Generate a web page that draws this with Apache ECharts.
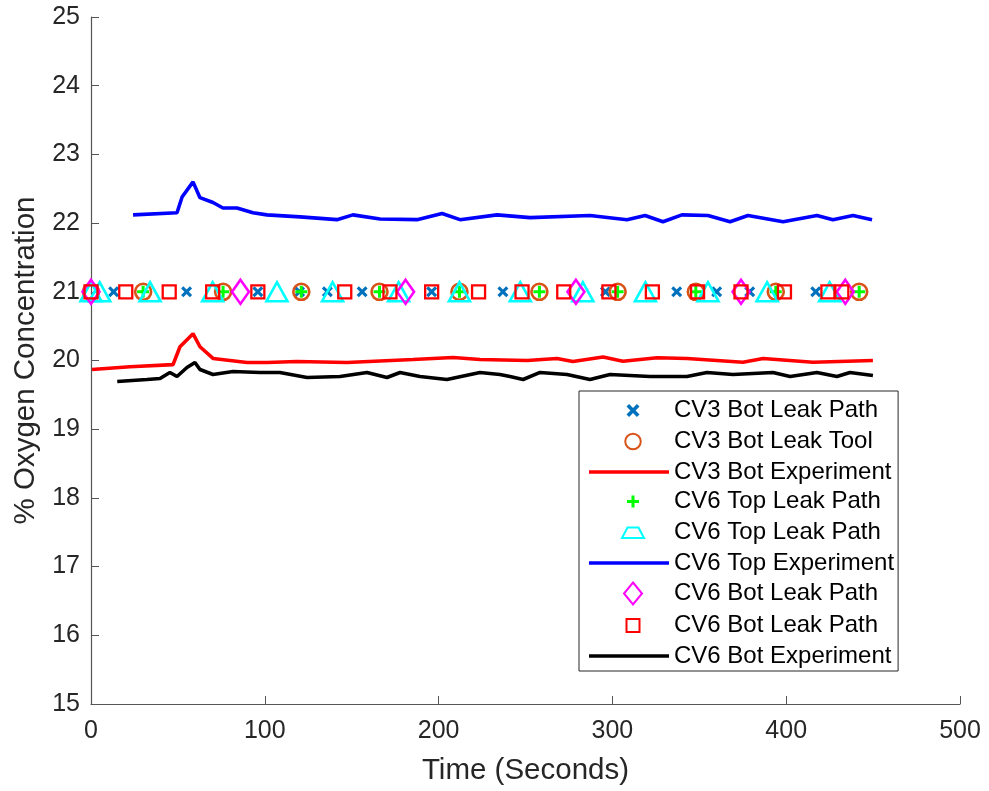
<!DOCTYPE html>
<html>
<head>
<meta charset="utf-8">
<script src="https://cdn.jsdelivr.net/npm/echarts@6/dist/echarts.min.js"></script>
<style>
  html, body { margin: 0; padding: 0; background: #fff; }
  #chart { width: 989px; height: 791px; }
</style>
</head>
<body>
<div id="chart"></div>
<script>
// Model predictions: every leak-path / tool marker sits at the 21 % level
const markerLevel = 21;
const cv3BotLeakPathT = [13, 55, 96, 120, 136, 156, 196, 237, 296, 337, 360, 379, 417];
const cv3BotLeakToolT = [0, 30, 76, 121, 166, 212, 258, 303, 348, 394, 442];
const cv6TopLeakPathPlusT = [30, 76, 121, 166, 212, 258, 303, 348, 394, 442];
const cv6TopLeakPathTriT = [0, 5, 34, 70, 107, 139, 177, 212, 247, 283, 319, 355, 389, 425];
const cv6BotLeakPathDiaT = [0, 86, 181, 279, 374, 434];
const cv6BotLeakPathSqT = [0, 20, 45, 70, 96, 146, 172, 196, 223, 248, 272, 298, 323, 349, 374, 399, 424, 432];

// Measured oxygen concentration, [time (s), % O2]
const cv3BotExperiment = [
  [0.6, 19.87], [22.4, 19.91], [47.2, 19.94], [51.2, 20.2], [58.7, 20.39], [62.7, 20.2],
  [70.2, 20.03], [89.8, 19.97], [101.3, 19.97], [118.5, 19.985], [147.3, 19.97],
  [185.3, 20.015], [208.3, 20.044], [223.8, 20.015], [250.9, 20.0], [268.1, 20.03],
  [277.3, 19.985], [294.6, 20.05], [306.1, 19.99], [325.7, 20.04], [342.9, 20.03],
  [375.1, 19.975], [386.7, 20.03], [415.4, 19.975], [449.9, 20.0]
];
const cv6TopExperiment = [
  [24.2, 22.12], [49.5, 22.15], [52.4, 22.38], [58.7, 22.6], [62.7, 22.37], [70.2, 22.3],
  [75.9, 22.22], [84.0, 22.22], [93.2, 22.15], [101.2, 22.12], [120.3, 22.09],
  [141.5, 22.05], [150.7, 22.12], [166.3, 22.06], [187.6, 22.05], [202.0, 22.14],
  [212.3, 22.05], [233.6, 22.12], [252.6, 22.08], [287.1, 22.11], [308.4, 22.05],
  [318.8, 22.11], [329.1, 22.02], [340.0, 22.12], [355.0, 22.11], [367.7, 22.02],
  [378.0, 22.11], [398.2, 22.02], [417.7, 22.11], [426.9, 22.05], [438.4, 22.11],
  [449.4, 22.05]
];
const cv6BotExperiment = [
  [15.1, 19.695], [32.2, 19.724], [39.7, 19.738], [45.4, 19.826], [49.5, 19.767],
  [55.2, 19.898], [59.8, 19.971], [62.7, 19.869], [70.2, 19.797], [81.7, 19.84],
  [97.2, 19.826], [108.7, 19.826], [124.3, 19.753], [143.3, 19.767], [158.8, 19.826],
  [170.3, 19.753], [177.8, 19.826], [189.3, 19.767], [204.8, 19.724], [223.8, 19.826],
  [235.3, 19.797], [241.1, 19.767], [248.6, 19.724], [258.4, 19.826], [273.9, 19.797],
  [287.1, 19.724], [298.6, 19.797], [321.6, 19.767], [342.9, 19.767], [354.4, 19.826],
  [369.4, 19.797], [392.4, 19.826], [402.2, 19.767], [417.7, 19.826], [429.2, 19.767],
  [436.7, 19.826], [449.9, 19.782]
];

const xTicks = { min: 0, max: 500, interval: 100 };
const yTicks = { min: 15, max: 25, interval: 1 };

const atLevel = ts => ts.map(t => [t, markerLevel]);

const FONT = "'Liberation Sans', Arial, Helvetica, sans-serif";
const AXIS = '#262626';

// plot symbols
const xPath = 'path://M0,2L2,0L5,3L8,0L10,2L7,5L10,8L8,10L5,7L2,10L0,8L3,5Z';
const plusPath = 'path://M4.5,0H7.5V4.5H12V7.5H7.5V12H4.5V7.5H0V4.5H4.5Z';

// legend icons, drawn inside an 80 x 25 box (corner points keep the box size)
const BOX = 'M0,0L0,0M80,25L80,25';
const legendIcons = {
  x: 'path://' + BOX + 'M37.5,8.6L40.1,6L44,9.9L47.9,6L50.5,8.6L46.6,12.5L50.5,16.4L47.9,19L44,15.1L40.1,19L37.5,16.4L41.4,12.5Z',
  circle: 'path://' + BOX + 'M51.75,12.5A7.75,7.75 0 1 1 36.25,12.5A7.75,7.75 0 1 1 51.75,12.5Z',
  plus: 'path://' + BOX + 'M42.5,6.5H45.5V11H50V14H45.5V18.5H42.5V14H38V11H42.5Z',
  trap: 'path://' + BOX + 'M38.5,7.5H49.5L55,18H33Z',
  diamond: 'path://' + BOX + 'M44,1.5L53,12.5L44,23.5L35,12.5Z',
  square: 'path://' + BOX + 'M37.5,6H50.5V19H37.5Z',
  line: 'path://M0,10.7H80V14.3H0Z'
};

function markerSeries(name, ts, symbol, size, fill, stroke, bw) {
  return {
    name, type: 'scatter', data: atLevel(ts), symbol, symbolSize: size,
    itemStyle: { color: fill, borderColor: stroke, borderWidth: bw, opacity: 1 },
    emphasis: { disabled: true }, animation: false
  };
}
function lineSeries(name, data, color) {
  return {
    name, type: 'line', data, showSymbol: false, symbol: 'none',
    lineStyle: { color, width: 3.6 }, itemStyle: { color, borderWidth: 0 },
    emphasis: { disabled: true }, animation: false
  };
}

const seriesList = [
  markerSeries('CV3 Bot Leak Path', cv3BotLeakPathT, xPath, 11, '#0072BD', '#0072BD', 0),
  markerSeries('CV3 Bot Leak Tool', cv3BotLeakToolT, 'circle', 16, 'rgba(0,0,0,0)', '#D95319', 2.6),
  lineSeries('CV3 Bot Experiment', cv3BotExperiment, '#FF0000'),
  markerSeries('CV6 Top Leak Path', cv6TopLeakPathPlusT, plusPath, 12, '#00FF00', '#00FF00', 0),
  markerSeries('CV6 Top Leak Path ', cv6TopLeakPathTriT, 'triangle', [21, 19], 'rgba(0,0,0,0)', '#00FFFF', 2.6),
  lineSeries('CV6 Top Experiment', cv6TopExperiment, '#0000FF'),
  markerSeries('CV6 Bot Leak Path', cv6BotLeakPathDiaT, 'diamond', [17, 24], 'rgba(0,0,0,0)', '#FF00FF', 2.6),
  markerSeries('CV6 Bot Leak Path ', cv6BotLeakPathSqT, 'rect', 13, 'rgba(0,0,0,0)', '#FF0000', 2.3),
  lineSeries('CV6 Bot Experiment', cv6BotExperiment, '#000000')
];
const iconOrder = ['x', 'circle', 'line', 'plus', 'trap', 'line', 'diamond', 'square', 'line'];

const chart = echarts.init(document.getElementById('chart'), null, { renderer: 'canvas' });
chart.setOption({
  backgroundColor: '#fff',
  animation: false,
  textStyle: { fontFamily: FONT },
  grid: { left: 91, right: 29, top: 17, bottom: 86, containLabel: false },
  xAxis: {
    type: 'value', min: xTicks.min, max: xTicks.max, interval: xTicks.interval,
    name: 'Time (Seconds)', nameLocation: 'middle', nameGap: 52,
    nameTextStyle: { fontSize: 29.5, color: AXIS, fontFamily: FONT },
    axisLine: { onZero: false, lineStyle: { color: '#555', width: 1.2 } },
    axisTick: { inside: true, length: 8, lineStyle: { color: '#555' } },
    axisLabel: { fontSize: 25, color: AXIS, margin: 15, fontFamily: FONT },
    splitLine: { show: false }
  },
  yAxis: {
    type: 'value', min: yTicks.min, max: yTicks.max, interval: yTicks.interval,
    name: '% Oxygen Concentration', nameLocation: 'middle', nameGap: 49,
    nameTextStyle: { fontSize: 29.5, color: AXIS, fontFamily: FONT },
    axisLine: { show: true, onZero: false, lineStyle: { color: '#555', width: 1.2 } },
    axisTick: { show: true, inside: true, length: 8, lineStyle: { color: '#555' } },
    axisLabel: { fontSize: 25, color: AXIS, margin: 11, fontFamily: FONT },
    splitLine: { show: false }
  },
  legend: {
    orient: 'vertical', left: 579, top: 391,
    padding: [7, 4, 3, 9], itemGap: 5, itemWidth: 80, itemHeight: 25,
    borderColor: '#262626', borderWidth: 1, backgroundColor: '#fff',
    textStyle: { fontSize: 24, color: '#000', fontFamily: FONT },
    selectedMode: false,
    data: seriesList.map((s, i) => ({ name: s.name, icon: legendIcons[iconOrder[i]] }))
  },
  series: seriesList
});
</script>
</body>
</html>
